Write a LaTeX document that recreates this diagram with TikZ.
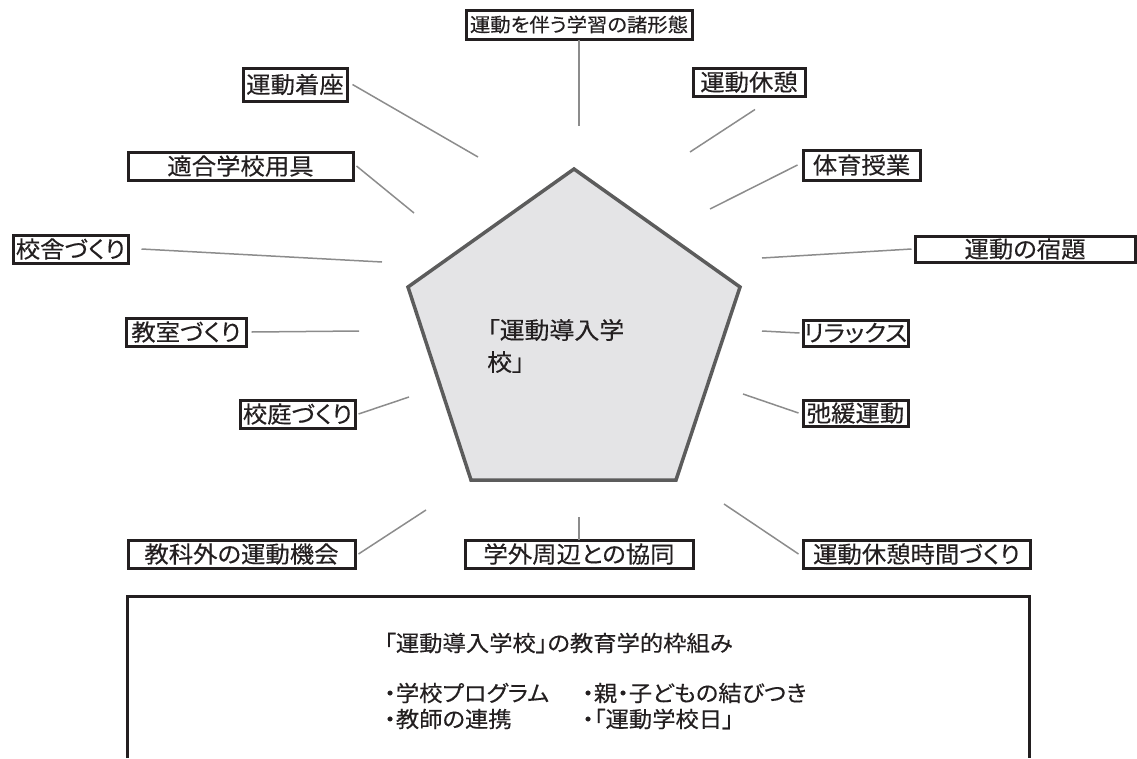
\documentclass[tikz,border=0pt]{standalone}
\usepackage{fontspec}
\setmainfont{Noto Sans CJK JP}[RawFeature={+palt}, FakeStretch=1.06, FakeBold=0.3]
\definecolor{ink}{HTML}{231F20}
\definecolor{pentfill}{HTML}{E4E4E6}
\definecolor{pentline}{HTML}{5C5C5C}
\definecolor{linkc}{HTML}{8C8C8C}
\tikzset{
  lbox/.style={draw=ink, line width=3pt, inner sep=0pt, text=ink,
    font=\fontsize{23}{23}\selectfont},
  link/.style={draw=linkc, line width=1.5pt},
  pent/.style={draw=pentline, fill=pentfill, line width=3.5pt, line join=miter},
  txt/.style={text=ink, inner sep=0pt, anchor=west, font=\fontsize{22}{22}\selectfont}
}
\begin{document}
\begin{tikzpicture}[x=1pt,y=-1pt]
\useasboundingbox (0,0) rectangle (1137,758);
% pentagon
\draw[pent] (574,169) -- (740,287) -- (676,480) -- (471,480) -- (408,287) -- cycle;
\node[txt, align=left, font=\fontsize{23.5}{32}\selectfont] (center) at (487,346) {「運動導入学\\校」};
% boxes
\node[lbox, minimum width=226pt, minimum height=29pt, font=\fontsize{19.2}{19.2}\selectfont] (b1) at (579,24.5) {運動を伴う学習の諸形態};
\node[lbox, minimum width=104pt, minimum height=33pt] (b2) at (295,84.5) {運動着座};
\node[lbox, minimum width=112pt, minimum height=28pt] (b3) at (749,82) {運動休憩};
\node[lbox, minimum width=225pt, minimum height=28pt] (b4) at (240.5,166) {適合学校用具};
\node[lbox, minimum width=117pt, minimum height=30pt] (b5) at (861.5,165) {体育授業};
\node[lbox, minimum width=115pt, minimum height=28pt] (b6) at (70.5,249) {校舎づくり};
\node[lbox, minimum width=220pt, minimum height=26pt] (b7) at (1025,249) {運動の宿題};
\node[lbox, minimum width=120pt, minimum height=28pt] (b8) at (186,332) {教室づくり};
\node[lbox, minimum width=105pt, minimum height=26pt] (b9) at (855.5,333) {リラックス};
\node[lbox, minimum width=115pt, minimum height=28pt] (b10) at (297.5,414) {校庭づくり};
\node[lbox, minimum width=105pt, minimum height=26pt] (b11) at (855.5,413) {弛緩運動};
\node[lbox, minimum width=227pt, minimum height=28pt] (b12) at (241.5,554) {教科外の運動機会};
\node[lbox, minimum width=228pt, minimum height=28pt] (b13) at (579,554) {学外周辺との協同};
\node[lbox, minimum width=227pt, minimum height=28pt] (b14) at (916.5,554) {運動休憩時間づくり};
% free ends near the pentagon
\coordinate (e1) at (579,126);
\coordinate (e2) at (478,157);
\coordinate (e3) at (690,152);
\coordinate (e4) at (414,213);
\coordinate (e5) at (710,209);
\coordinate (e6) at (382,262);
\coordinate (e7) at (762,258);
\coordinate (e8) at (359,331);
\coordinate (e9) at (762,331);
\coordinate (e10) at (409,397);
\coordinate (e11) at (743,394);
\coordinate (e12) at (426,510);
\coordinate (e13) at (579,517);
\coordinate (e14) at (724,504);
% connectors
\draw[link] ([yshift=1pt]b1.south) -- (e1);
\draw[link] ([xshift=4pt]b2.east) -- (e2);
\draw[link] ([shift={(6,12)}]b3.south) -- (e3);
\draw[link] ([xshift=2pt]b4.east) -- (e4);
\draw[link] ([xshift=-4pt]b5.west) -- (e5);
\draw[link] ([xshift=12pt]b6.east) -- (e6);
\draw[link] ([xshift=-2pt]b7.west) -- (e7);
\draw[link] ([xshift=4pt]b8.east) -- (e8);
\draw[link] ([xshift=-2pt]b9.west) -- (e9);
\draw[link] ([xshift=2pt]b10.east) -- (e10);
\draw[link] ([xshift=-3pt]b11.west) -- (e11);
\draw[link] ([xshift=2pt]b12.east) -- (e12);
\draw[link] ([yshift=-1pt]b13.north) -- (e13);
\draw[link] ([xshift=-3pt]b14.west) -- (e14);
% bottom frame (open at the bottom)
\coordinate (f1) at (127,758);
\coordinate (f2) at (127,596);
\coordinate (f3) at (1029,596);
\coordinate (f4) at (1029,758);
\draw[draw=ink, line width=3pt] (f1) -- (f2) -- (f3) -- (f4);
\node[txt] (title) at (384,643) {「運動導入学校」の教育学的枠組み};
\node[txt] (p1) at (384,693) {・学校プログラム};
\node[txt] (p2) at (384,719) {・教師の連携};
\node[txt] (p3) at (582,693) {・親・子どもの結びつき};
\node[txt] (p4) at (582,719) {・「運動学校日」};
\end{tikzpicture}
\end{document}
